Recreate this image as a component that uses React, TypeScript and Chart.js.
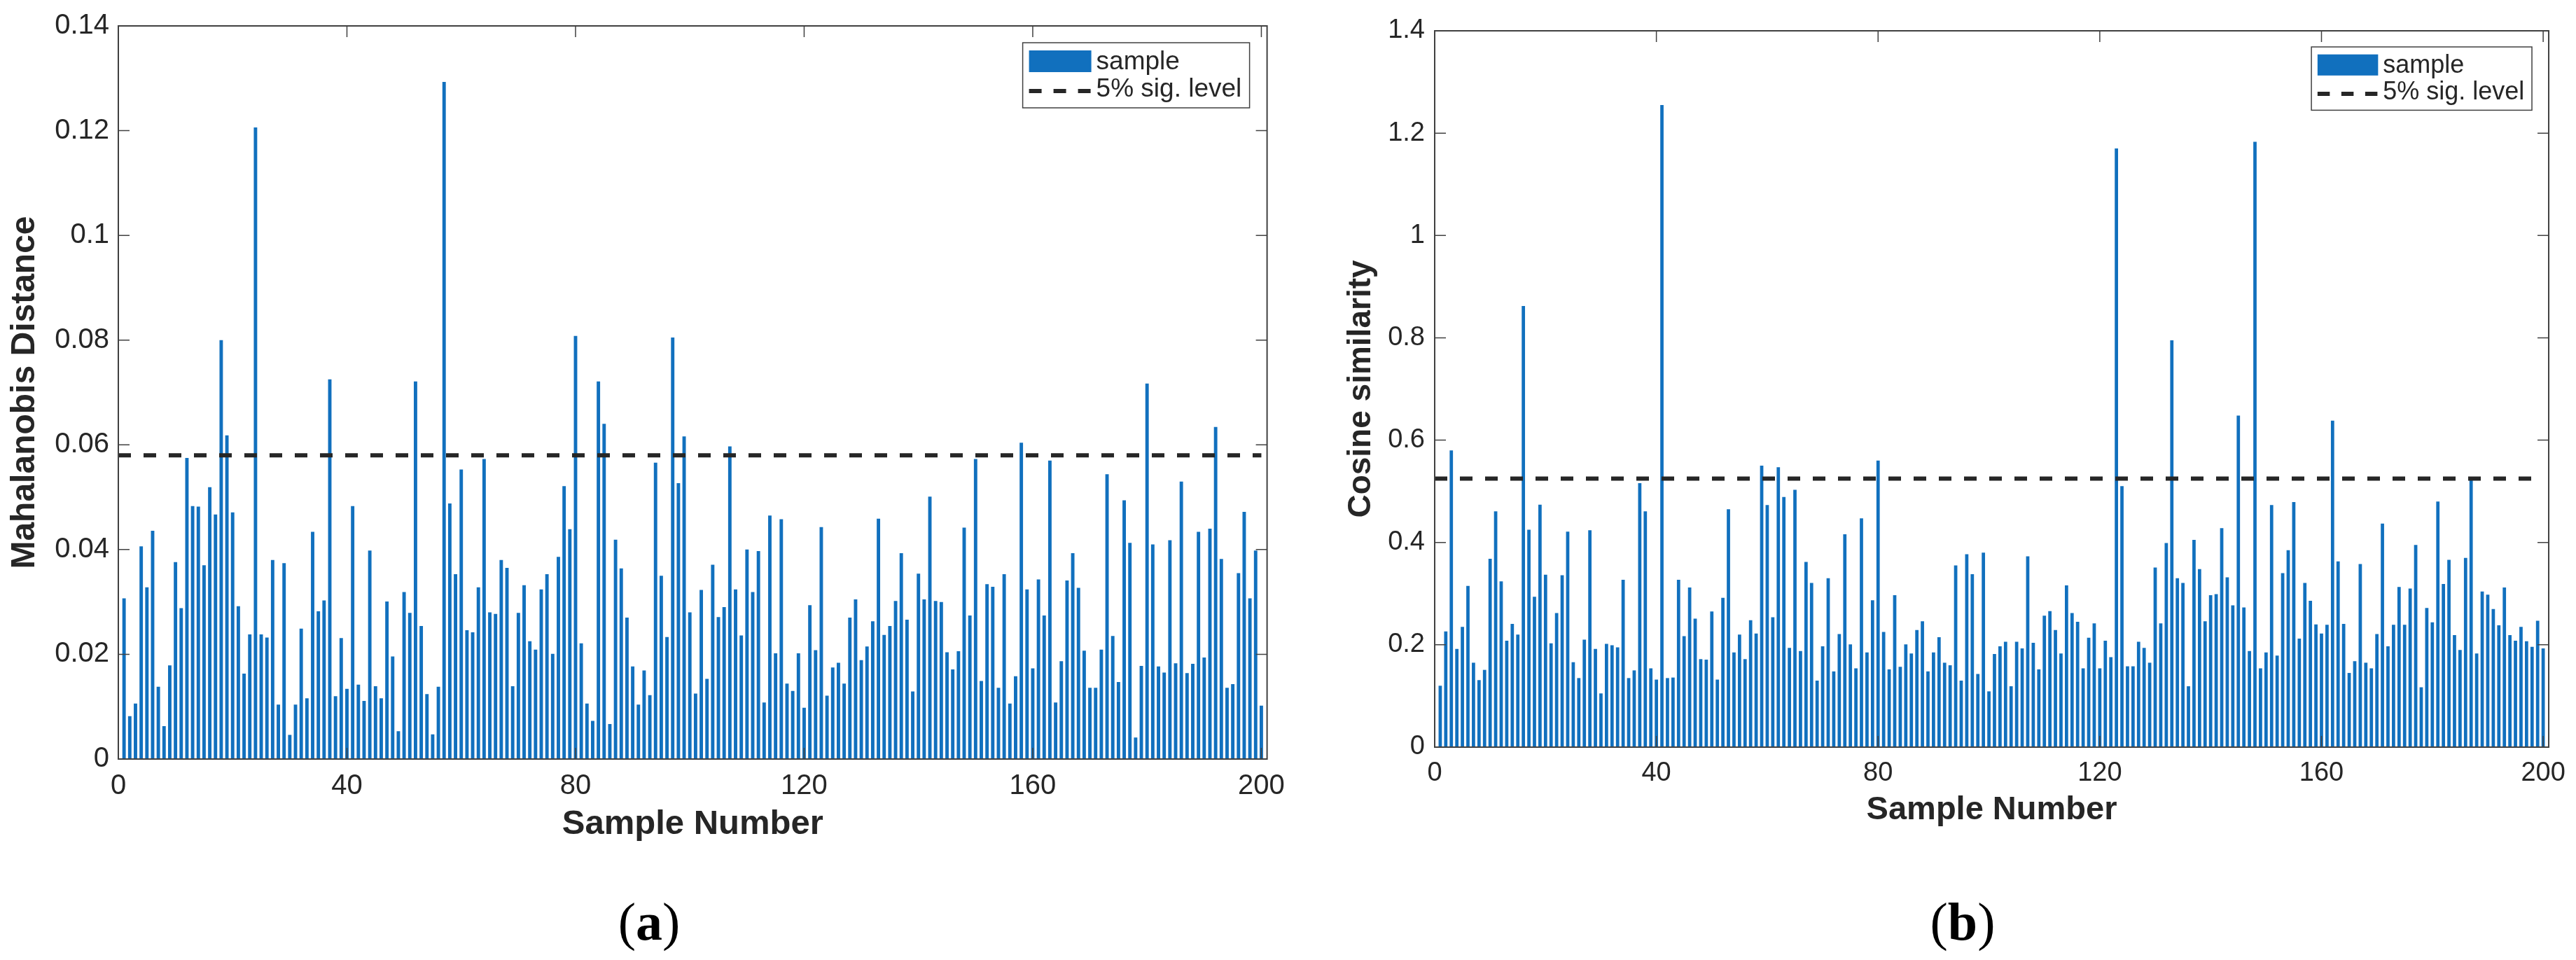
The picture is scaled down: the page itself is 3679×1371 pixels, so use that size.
import { useEffect, useRef } from "react";
import { Chart, registerables } from "chart.js";

Chart.register(...registerables);

// sample index shown on the x axis
const sampleNumbers = Array.from({ length: 200 }, (_, i) => i + 1);
const xTickValues = [0, 40, 80, 120, 160, 200];

// (a) Mahalanobis distance per sample
const mahalanobis = [
  0.0307, 0.0082, 0.0106, 0.0406, 0.0328, 0.0436, 0.0138, 0.0063, 0.0179, 0.0376,
  0.0288, 0.0575, 0.0483, 0.0482, 0.037, 0.0519, 0.0467, 0.08, 0.0618, 0.0471,
  0.0292, 0.0163, 0.0238, 0.1206, 0.0238, 0.0232, 0.038, 0.0104, 0.0374, 0.0046,
  0.0104, 0.0249, 0.0116, 0.0434, 0.0282, 0.0303, 0.0725, 0.012, 0.0231, 0.0134,
  0.0483, 0.0142, 0.0111, 0.0398, 0.0139, 0.0116, 0.0301, 0.0196, 0.0053, 0.0319,
  0.0279, 0.0721, 0.0254, 0.0124, 0.0047, 0.0138, 0.1293, 0.0488, 0.0353, 0.0553,
  0.0246, 0.0242, 0.0328, 0.0573, 0.028, 0.0277, 0.038, 0.0365, 0.0139, 0.0279,
  0.0332, 0.0225, 0.0209, 0.0324, 0.0353, 0.0201, 0.0386, 0.0521, 0.0439, 0.0808,
  0.0221, 0.0106, 0.0073, 0.0721, 0.064, 0.0067, 0.0419, 0.0364, 0.027, 0.0177,
  0.0104, 0.0169, 0.0122, 0.0566, 0.035, 0.0233, 0.0805, 0.0527, 0.0616, 0.028,
  0.0125, 0.0323, 0.0153, 0.0371, 0.0271, 0.029, 0.0597, 0.0324, 0.0236, 0.04,
  0.0319, 0.0397, 0.0108, 0.0465, 0.0202, 0.0458, 0.0144, 0.013, 0.0202, 0.0098,
  0.0294, 0.0208, 0.0443, 0.0121, 0.0175, 0.0184, 0.0144, 0.027, 0.0305, 0.0189,
  0.0215, 0.0263, 0.0459, 0.0237, 0.0254, 0.0302, 0.0393, 0.0266, 0.0129, 0.0354,
  0.0305, 0.0501, 0.0302, 0.03, 0.0204, 0.0171, 0.0206, 0.0442, 0.0274, 0.0573,
  0.0149, 0.0334, 0.0329, 0.0136, 0.0353, 0.0106, 0.0158, 0.0604, 0.0324, 0.0173,
  0.0343, 0.0274, 0.057, 0.0108, 0.0187, 0.0341, 0.0393, 0.0327, 0.0207, 0.0136,
  0.0136, 0.0209, 0.0544, 0.0235, 0.0147, 0.0494, 0.0413, 0.0041, 0.0178, 0.0717,
  0.041, 0.0177, 0.0165, 0.0418, 0.0183, 0.053, 0.0164, 0.0182, 0.0434, 0.0194,
  0.044, 0.0634, 0.0382, 0.0136, 0.0143, 0.0355, 0.0472, 0.0307, 0.0398, 0.0102,
];
const mahalanobisTicks = [0, 0.02, 0.04, 0.06, 0.08, 0.1, 0.12, 0.14];
const mahalanobisLimit = 0.058;

// (b) cosine similarity per sample
const cosine = [
  0.12, 0.226, 0.58, 0.192, 0.235, 0.315, 0.165, 0.131, 0.151, 0.368,
  0.461, 0.324, 0.208, 0.241, 0.22, 0.862, 0.425, 0.294, 0.474, 0.337,
  0.203, 0.262, 0.336, 0.421, 0.166, 0.135, 0.21, 0.424, 0.192, 0.105,
  0.202, 0.199, 0.195, 0.327, 0.135, 0.15, 0.516, 0.461, 0.154, 0.132,
  1.255, 0.135, 0.136, 0.327, 0.217, 0.312, 0.251, 0.172, 0.171, 0.265,
  0.132, 0.292, 0.465, 0.185, 0.22, 0.172, 0.248, 0.222, 0.55, 0.473,
  0.254, 0.547, 0.489, 0.194, 0.503, 0.188, 0.362, 0.321, 0.13, 0.197,
  0.33, 0.148, 0.221, 0.416, 0.201, 0.154, 0.447, 0.185, 0.287, 0.56,
  0.225, 0.152, 0.297, 0.157, 0.201, 0.183, 0.229, 0.246, 0.148, 0.185,
  0.215, 0.165, 0.16, 0.355, 0.13, 0.377, 0.338, 0.143, 0.38, 0.109,
  0.182, 0.197, 0.206, 0.119, 0.206, 0.193, 0.373, 0.204, 0.152, 0.257,
  0.266, 0.229, 0.183, 0.316, 0.262, 0.245, 0.154, 0.214, 0.242, 0.154,
  0.208, 0.176, 1.17, 0.51, 0.158, 0.158, 0.206, 0.194, 0.165, 0.351,
  0.242, 0.399, 0.795, 0.33, 0.321, 0.119, 0.405, 0.348, 0.246, 0.297,
  0.299, 0.428, 0.332, 0.277, 0.648, 0.273, 0.188, 1.183, 0.154, 0.185,
  0.473, 0.179, 0.34, 0.385, 0.479, 0.212, 0.321, 0.286, 0.24, 0.222,
  0.239, 0.638, 0.363, 0.241, 0.145, 0.168, 0.358, 0.165, 0.154, 0.221,
  0.437, 0.197, 0.239, 0.313, 0.239, 0.31, 0.395, 0.117, 0.272, 0.244,
  0.48, 0.319, 0.366, 0.219, 0.19, 0.37, 0.523, 0.183, 0.304, 0.298,
  0.27, 0.238, 0.312, 0.219, 0.208, 0.235, 0.207, 0.196, 0.247, 0.193,
];
const cosineTicks = [0, 0.2, 0.4, 0.6, 0.8, 1, 1.2, 1.4];
const cosineLimit = 0.525;

const legendLabels = ["sample", "5% sig. level"];

const SANS = '"Liberation Sans", Arial, Helvetica, sans-serif';
const SERIF = '"Liberation Serif", "Times New Roman", serif';
const INK = "#262626";
const FRAME = "#404040";
const BAR_BLUE = "#1170BE";
const TICK_LEN = 16;

interface PanelProps {
  values: number[];
  limit: number;
  yTicks: number[];
  yTitle: string;
  left: number;
  width: number;
  height: number;
  area: { left: number; top: number; right: number; bottom: number };
  tickFont: number;
  tickPad: { x: number; y: number };
  yTitleFont: number;
  yTitlePad: number;
  xTitleFont: number;
  xTitlePad: number;
  legendScale: number;
  legendGap: { right: number; top: number };
}

const fmt = (v: number) => String(Number(v.toFixed(2)));

const BarPanel: React.FC<PanelProps> = (p) => {
  const canvasRef = useRef<HTMLCanvasElement | null>(null);
  const chartRef = useRef<Chart | null>(null);

  useEffect(() => {
    const ctx = canvasRef.current?.getContext("2d");
    if (!ctx) return;

    const s = p.legendScale;
    // MATLAB-like box: frame all round, ticks pointing inwards, legend inside top right
    const framePlugin = {
      id: "matlabFrame",
      afterDraw(chart: Chart) {
        const c = chart.ctx;
        const a = chart.chartArea;
        const xs = chart.scales.x;
        const ys = chart.scales.y;
        c.save();
        c.strokeStyle = FRAME;
        c.lineWidth = 2;
        c.setLineDash([]);
        c.strokeRect(a.left, a.top, a.right - a.left, a.bottom - a.top);
        c.lineWidth = 1.5;
        c.beginPath();
        xs.ticks.forEach((t) => {
          const px = xs.getPixelForValue(t.value);
          c.moveTo(px, a.bottom);
          c.lineTo(px, a.bottom - TICK_LEN);
          c.moveTo(px, a.top);
          c.lineTo(px, a.top + TICK_LEN);
        });
        ys.ticks.forEach((t) => {
          const py = ys.getPixelForValue(t.value);
          c.moveTo(a.left, py);
          c.lineTo(a.left + TICK_LEN, py);
          c.moveTo(a.right, py);
          c.lineTo(a.right - TICK_LEN, py);
        });
        c.stroke();

        const w = 324 * s;
        const h = 93 * s;
        const bx = a.right - p.legendGap.right - w;
        const by = a.top + p.legendGap.top;
        c.fillStyle = "#ffffff";
        c.fillRect(bx, by, w, h);
        c.lineWidth = 1.5;
        c.strokeStyle = FRAME;
        c.strokeRect(bx, by, w, h);

        const bar = chart.data.datasets[0] as any;
        const line = chart.data.datasets[1] as any;
        c.fillStyle = bar.backgroundColor;
        c.fillRect(bx + 9 * s, by + 11 * s, 89 * s, 31 * s);

        c.strokeStyle = line.borderColor;
        c.lineWidth = line.borderWidth;
        c.setLineDash([18 * s, 17 * s]);
        c.beginPath();
        c.moveTo(bx + 9 * s, by + 69 * s);
        c.lineTo(bx + 98 * s, by + 69 * s);
        c.stroke();
        c.setLineDash([]);

        c.fillStyle = INK;
        c.font = `${Math.round(37 * s)}px ${SANS}`;
        c.textAlign = "left";
        c.textBaseline = "middle";
        c.fillText(String(bar.label), bx + 105 * s, by + 28 * s);
        c.fillText(String(line.label), bx + 105 * s, by + 67 * s);
        c.restore();
      },
    };

    chartRef.current = new Chart(ctx, {
      type: "bar",
      data: {
        datasets: [
          {
            type: "bar",
            label: legendLabels[0],
            data: sampleNumbers.map((n, i) => ({ x: n, y: p.values[i] })),
            backgroundColor: BAR_BLUE,
            borderWidth: 0,
            barPercentage: 0.6,
            categoryPercentage: 1,
            order: 2,
          },
          {
            type: "line",
            label: legendLabels[1],
            data: [
              { x: xTickValues[0], y: p.limit },
              { x: xTickValues[xTickValues.length - 1], y: p.limit },
            ],
            borderColor: INK,
            borderWidth: 6,
            borderDash: [18, 18],
            borderCapStyle: "butt",
            pointRadius: 0,
            fill: false,
            order: 1,
          },
        ] as any,
      },
      options: {
        animation: false,
        responsive: false,
        maintainAspectRatio: false,
        devicePixelRatio: 1,
        layout: {
          padding: { left: 0, top: p.area.top, right: p.width - p.area.right, bottom: 0 },
        },
        plugins: {
          legend: { display: false },
          tooltip: { enabled: false },
        },
        scales: {
          x: {
            type: "linear",
            min: 0,
            max: 201,
            offset: false,
            grid: { display: false, drawTicks: false, tickLength: 0, offset: false },
            border: { display: false },
            ticks: {
              color: INK,
              font: { family: SANS, size: p.tickFont },
              padding: p.tickPad.x,
              maxRotation: 0,
              autoSkip: false,
              callback: (v) => String(v),
            },
            afterBuildTicks: (axis) => {
              axis.ticks = xTickValues.map((v) => ({ value: v }));
            },
            afterFit: (axis) => {
              axis.height = p.height - p.area.bottom;
            },
            title: {
              display: true,
              text: "Sample Number",
              color: INK,
              font: { family: SANS, size: p.xTitleFont, weight: "bold" },
              padding: { top: 0, bottom: p.xTitlePad },
            },
          },
          y: {
            type: "linear",
            min: p.yTicks[0],
            max: p.yTicks[p.yTicks.length - 1],
            grid: { display: false, drawTicks: false, tickLength: 0 },
            border: { display: false },
            ticks: {
              color: INK,
              font: { family: SANS, size: p.tickFont },
              padding: p.tickPad.y,
              autoSkip: false,
              callback: (v) => fmt(Number(v)),
            },
            afterBuildTicks: (axis) => {
              axis.ticks = p.yTicks.map((v) => ({ value: v }));
            },
            afterFit: (axis) => {
              axis.width = p.area.left;
            },
            title: {
              display: true,
              text: p.yTitle,
              color: INK,
              font: { family: SANS, size: p.yTitleFont, weight: "bold" },
              padding: { top: p.yTitlePad, bottom: 0 },
            },
          },
        },
      },
      plugins: [framePlugin],
    });

    return () => {
      chartRef.current?.destroy();
      chartRef.current = null;
    };
  }, [p]);

  return (
    <canvas
      ref={canvasRef}
      width={p.width}
      height={p.height}
      style={{ position: "absolute", left: p.left, top: 0, width: p.width, height: p.height }}
    />
  );
};

const panelA: PanelProps = {
  values: mahalanobis,
  limit: mahalanobisLimit,
  yTicks: mahalanobisTicks,
  yTitle: "Mahalanobis Distance",
  left: 0,
  width: 1850,
  height: 1240,
  area: { left: 169, top: 31, right: 1812, bottom: 1084 },
  tickFont: 40,
  tickPad: { x: 15, y: 13 },
  yTitleFont: 48,
  yTitlePad: 7,
  xTitleFont: 49,
  xTitlePad: 33,
  legendScale: 1,
  legendGap: { right: 25, top: 24 },
};

const panelB: PanelProps = {
  values: cosine,
  limit: cosineLimit,
  yTicks: cosineTicks,
  yTitle: "Cosine similarity",
  left: 1860,
  width: 1819,
  height: 1240,
  area: { left: 189, top: 44, right: 1783, bottom: 1067 },
  tickFont: 38,
  tickPad: { x: 15, y: 14 },
  yTitleFont: 46,
  yTitlePad: 57,
  xTitleFont: 47,
  xTitlePad: 55,
  legendScale: 0.972,
  legendGap: { right: 24, top: 23 },
};

const captionStyle = (center: number): React.CSSProperties => ({
  position: "absolute",
  left: center - 100,
  top: 1278,
  width: 200,
  textAlign: "center",
  fontFamily: SERIF,
  fontSize: 76,
  lineHeight: "76px",
  color: "#000",
});

export default function App() {
  return (
    <div
      style={{
        position: "absolute",
        left: 0,
        top: 0,
        width: 3679,
        height: 1371,
        overflow: "hidden",
        background: "#ffffff",
      }}
    >
      <BarPanel {...panelA} />
      <BarPanel {...panelB} />
      <div style={captionStyle(927)}>
        (<b>a</b>)
      </div>
      <div style={captionStyle(2803)}>
        (<b>b</b>)
      </div>
    </div>
  );
}
